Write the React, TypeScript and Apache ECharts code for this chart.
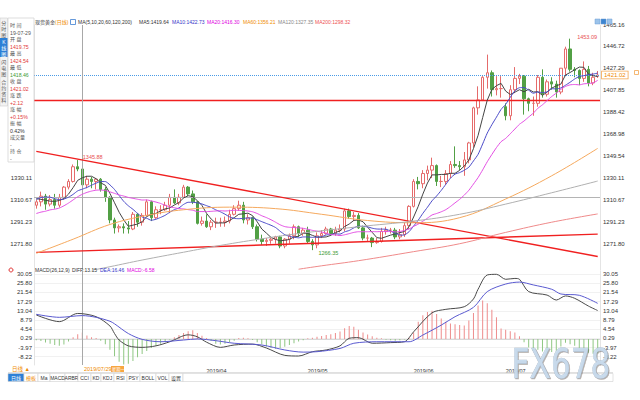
import React, { useEffect, useRef } from "react";
import * as echarts from "echarts";

// ---------- data ----------
const firstDate = "2019-02-07";

const openP = [
  1306, 1309, 1314, 1307, 1311, 1306, 1313, 1322, 1327, 1340,
  1338, 1324, 1329, 1327, 1329, 1320, 1313, 1293, 1286, 1287,
  1286, 1285, 1298, 1291, 1297, 1309, 1295, 1302, 1302, 1306,
  1313, 1308, 1313, 1322, 1316, 1309, 1290, 1292, 1287, 1291,
  1291, 1291, 1292, 1298, 1303, 1306, 1293, 1295, 1287, 1276,
  1274, 1275, 1276, 1278, 1270, 1276, 1279, 1287, 1281, 1284,
  1274, 1271, 1279, 1281, 1285, 1281, 1284, 1285, 1301, 1296,
  1297, 1286, 1277, 1277, 1273, 1274, 1283, 1284, 1284, 1278,
  1280, 1288, 1305, 1327, 1325, 1334, 1337, 1341, 1327, 1327,
  1334, 1342, 1341, 1340, 1346, 1361, 1392, 1399, 1419, 1423,
  1408, 1409, 1393, 1385, 1408, 1418, 1420, 1400, 1396, 1396,
  1419, 1404, 1415, 1413, 1406, 1427, 1444, 1426, 1425, 1418,
  1426, 1414, 1419.75,
];
const closeP = [
  1309, 1314, 1307, 1311, 1306, 1313, 1322, 1327, 1340, 1338,
  1324, 1329, 1327, 1329, 1320, 1313, 1293, 1286, 1287, 1286,
  1285, 1298, 1291, 1297, 1309, 1295, 1302, 1302, 1306, 1313,
  1308, 1313, 1322, 1316, 1309, 1290, 1292, 1287, 1291, 1291,
  1291, 1292, 1298, 1303, 1306, 1293, 1295, 1287, 1276, 1274,
  1275, 1276, 1278, 1270, 1276, 1279, 1287, 1281, 1284, 1274,
  1271, 1279, 1281, 1285, 1281, 1284, 1285, 1301, 1296, 1297,
  1286, 1277, 1277, 1273, 1274, 1283, 1284, 1284, 1278, 1280,
  1288, 1305, 1327, 1325, 1334, 1337, 1341, 1327, 1327, 1334,
  1342, 1341, 1340, 1346, 1361, 1392, 1399, 1419, 1423, 1408,
  1409, 1409, 1385, 1408, 1418, 1420, 1400, 1396, 1396, 1419,
  1404, 1415, 1413, 1406, 1427, 1444, 1426, 1425, 1418, 1426,
  1414, 1419, 1421.02,
];
const highP = [
  1311, 1318, 1316, 1315, 1316, 1316, 1323, 1329, 1342, 1345.88,
  1340, 1332, 1331, 1330, 1330, 1322, 1314, 1295, 1289, 1290,
  1292, 1300, 1299, 1299, 1311, 1310, 1305, 1306, 1309, 1316,
  1320, 1316, 1324, 1323, 1319, 1310, 1296, 1298, 1293, 1295,
  1295, 1296, 1302, 1306, 1310, 1309, 1298, 1296, 1289, 1280,
  1277, 1278, 1279, 1279, 1277, 1281, 1289, 1288, 1286, 1287,
  1276, 1282, 1284, 1287, 1286, 1287, 1289, 1303, 1303, 1300,
  1299, 1288, 1280, 1278, 1277, 1286, 1287, 1286, 1286, 1285,
  1291, 1306, 1329, 1331, 1337, 1341, 1348, 1342, 1332, 1337,
  1345, 1358, 1345, 1353, 1362, 1393, 1411, 1420, 1439, 1425,
  1420, 1420, 1396, 1412, 1428, 1422, 1421, 1401, 1402, 1421,
  1426, 1417, 1419, 1416, 1427, 1446, 1453.09, 1428, 1426, 1433,
  1429, 1423, 1424.54,
];
const lowP = [
  1303, 1305, 1302, 1305, 1303, 1304, 1311, 1320, 1326, 1336,
  1322, 1321, 1321, 1320, 1318, 1309, 1290, 1281, 1282, 1281,
  1281, 1284, 1287, 1288, 1296, 1292, 1294, 1298, 1301, 1299,
  1307, 1306, 1312, 1314, 1307, 1289, 1288, 1286, 1284, 1286,
  1287, 1287, 1290, 1297, 1301, 1290, 1289, 1285, 1274, 1271,
  1270, 1272, 1272, 1268, 1268, 1272, 1276, 1278, 1279, 1272,
  1266.35, 1268, 1277, 1280, 1279, 1279, 1282, 1283, 1294, 1292,
  1285, 1275, 1274, 1269, 1272, 1273, 1280, 1281, 1276, 1276,
  1278, 1285, 1304, 1320, 1321, 1328, 1330, 1323, 1322, 1324,
  1330, 1339, 1337, 1332, 1343, 1357, 1386, 1398, 1409, 1402,
  1403, 1401, 1381, 1381, 1405, 1413, 1386, 1389, 1385, 1393,
  1401, 1402, 1408, 1401, 1404, 1420, 1424, 1419, 1412, 1415,
  1411, 1412, 1418.46,
];

const ma5 = [
  1311.8, 1311.2, 1310.4, 1309.6, 1309.4, 1310.2, 1311.8, 1315.8, 1321.6, 1328.0,
  1330.2, 1331.6, 1331.6, 1329.4, 1325.8, 1323.6, 1316.4, 1308.2, 1299.8, 1293.0,
  1287.4, 1288.4, 1289.4, 1291.4, 1296.0, 1298.0, 1298.8, 1301.0, 1302.8, 1303.6,
  1306.2, 1308.4, 1312.4, 1314.4, 1313.6, 1310.0, 1305.8, 1298.8, 1293.8, 1290.2,
  1290.4, 1290.4, 1292.6, 1295.0, 1298.0, 1298.4, 1299.0, 1296.8, 1291.4, 1285.0,
  1281.4, 1277.6, 1275.8, 1274.6, 1275.0, 1275.8, 1278.0, 1278.6, 1281.4, 1281.0,
  1279.4, 1277.8, 1277.8, 1278.0, 1279.4, 1282.0, 1283.2, 1287.2, 1289.4, 1292.6,
  1293.0, 1291.4, 1286.6, 1282.0, 1277.4, 1276.8, 1278.2, 1279.6, 1280.6, 1281.8,
  1282.8, 1287.0, 1295.6, 1305.0, 1315.8, 1325.6, 1332.8, 1332.8, 1333.2, 1333.2,
  1334.2, 1334.2, 1336.8, 1340.6, 1346.0, 1356.0, 1367.6, 1383.4, 1398.8, 1408.2,
  1411.6, 1413.6, 1406.8, 1403.8, 1405.8, 1408.0, 1406.2, 1408.4, 1406.0, 1406.2,
  1403.0, 1406.0, 1409.4, 1411.4, 1413.0, 1421.0, 1423.2, 1425.6, 1428.0, 1427.8,
  1421.8, 1420.4, 1419.64,
];
const ma10 = [
  1311.2, 1312.8, 1313.2, 1313.1, 1311.8, 1311.0, 1311.5, 1313.1, 1315.6, 1318.7,
  1320.2, 1321.7, 1323.7, 1325.5, 1326.9, 1326.9, 1324.0, 1319.9, 1314.6, 1309.4,
  1305.5, 1302.4, 1298.8, 1295.6, 1294.5, 1292.7, 1293.6, 1295.2, 1297.1, 1299.8,
  1302.1, 1303.6, 1306.7, 1308.6, 1308.6, 1308.1, 1307.1, 1305.6, 1304.1, 1301.9,
  1300.2, 1298.1, 1295.7, 1294.4, 1294.1, 1294.4, 1294.7, 1294.7, 1293.2, 1291.5,
  1289.9, 1288.3, 1286.3, 1283.0, 1280.0, 1278.6, 1277.8, 1277.2, 1278.0, 1278.0,
  1277.6, 1277.9, 1278.2, 1279.7, 1280.2, 1280.7, 1280.5, 1282.5, 1283.7, 1286.0,
  1287.5, 1287.3, 1286.9, 1285.7, 1285.0, 1284.9, 1284.8, 1283.1, 1281.3, 1279.6,
  1279.8, 1282.6, 1287.6, 1292.8, 1298.8, 1304.2, 1309.9, 1314.2, 1319.1, 1324.5,
  1329.9, 1333.5, 1334.8, 1336.9, 1339.6, 1345.1, 1350.9, 1360.1, 1369.7, 1377.1,
  1383.8, 1390.6, 1395.1, 1401.3, 1407.0, 1409.8, 1409.9, 1407.6, 1404.9, 1406.0,
  1405.5, 1406.1, 1408.9, 1408.7, 1409.6, 1412.0, 1414.6, 1417.5, 1419.7, 1420.4,
  1421.4, 1421.8, 1422.73,
];
const ma20 = [
  1298.7, 1299.9, 1300.7, 1301.9, 1302.5, 1303.5, 1305.5, 1307.9, 1310.7, 1313.5,
  1315.7, 1317.3, 1318.5, 1319.3, 1319.4, 1319.0, 1317.8, 1316.5, 1315.1, 1314.1,
  1312.9, 1312.1, 1311.3, 1310.6, 1310.7, 1309.8, 1308.8, 1307.6, 1305.9, 1304.6,
  1303.8, 1303.0, 1302.8, 1302.1, 1301.6, 1300.4, 1300.4, 1300.4, 1300.6, 1300.9,
  1301.2, 1300.9, 1301.2, 1301.5, 1301.4, 1301.3, 1300.9, 1300.2, 1298.7, 1296.7,
  1295.1, 1293.2, 1291.0, 1288.7, 1287.1, 1286.5, 1286.3, 1286.0, 1285.6, 1284.8,
  1283.8, 1283.1, 1282.3, 1281.4, 1280.1, 1279.7, 1279.2, 1279.9, 1280.9, 1282.0,
  1282.6, 1282.6, 1282.6, 1282.7, 1282.6, 1282.8, 1282.7, 1282.8, 1282.5, 1282.8,
  1283.7, 1285.0, 1287.3, 1289.3, 1291.9, 1294.6, 1297.4, 1298.7, 1300.2, 1302.1,
  1304.9, 1308.1, 1311.2, 1314.9, 1319.2, 1324.7, 1330.4, 1337.2, 1344.4, 1350.8,
  1356.9, 1362.1, 1365.0, 1369.1, 1373.3, 1377.5, 1380.4, 1383.9, 1387.3, 1391.6,
  1394.7, 1398.4, 1402.0, 1405.0, 1408.3, 1410.9, 1412.3, 1412.6, 1412.3, 1413.2,
  1413.5, 1414.0, 1416.3,
];
// [candle index, value] read at points along the long averages
const ma60 = [[0, 1263.5], [8, 1276], [16, 1289], [24, 1297], [32, 1302], [42, 1304.3], [52, 1303], [62, 1298], [72, 1292.5], [82, 1290.5], [92, 1295], [102, 1311.5], [112, 1332], [122, 1356.21]];
const ma120 = [[12, 1248.5], [16, 1251.7], [23, 1257.6], [32, 1264.5], [40, 1270.5], [50, 1277], [57, 1281], [70, 1287], [82, 1292], [92, 1298], [102, 1307], [112, 1317], [122, 1327.35]];
const ma200 = [[57, 1249.5], [62, 1252.5], [70, 1257], [82, 1265], [92, 1272], [102, 1282], [112, 1291], [122, 1298.32]];

const diffLine = [[0, 11.1], [5, 8.0], [9, 11.8], [13, 10.3], [16, 6.0], [17, 2.5], [18, -0.5], [20, -3.2], [23, -3.9], [26, -3.2], [29, -1.3], [33, 1.9], [35, 1.0], [37, -1.5], [40, -3.9], [43, -2.8], [47, -2.4], [50, -4.2], [54, -7.6], [57, -7.9], [60, -5.9], [63, -5.1], [66, -3.2], [68, 0.3], [70, 0.6], [73, -2.0], [77, -1.7], [80, -1.3], [82, 3.3], [86, 12.1], [89, 13.7], [93, 14.9], [95, 18.5], [96, 23.0], [98, 29.6], [100, 29.9], [102, 27.6], [104, 28.0], [105, 27.6], [107, 21.9], [111, 20.3], [113, 18.0], [115, 19.9], [117, 18.8], [120, 15.2], [122, 13.15]];
const deaLine = [[0, 11.4], [5, 10.0], [10, 10.8], [13, 10.0], [16, 8.2], [17, 7.0], [20, 2.5], [23, -0.2], [27, -1.3], [32, -0.5], [35, 0.0], [39, -0.8], [43, -2.0], [49, -2.8], [54, -5.1], [58, -6.1], [61, -5.9], [66, -4.4], [69, -2.0], [74, -1.3], [81, -1.3], [84, 1.8], [88, 6.4], [91, 10.3], [95, 14.6], [98, 21.9], [102, 25.4], [105, 26.3], [108, 25.0], [112, 23.0], [114, 20.8], [118, 20.2], [122, 16.46]];
const macdHist = [
  -0.6, -1.0, -1.6, -2.2, -2.8, -3.2, -2.6, -1.2, 0.8, 2.2,
  3.0, 1.6, 0.8, 0.4, -0.8, -2.5, -5.0, -8.0, -10.5, -11.8,
  -11.5, -10.2, -8.5, -7.0, -5.6, -4.2, -3.2, -2.2, -1.2, -0.4,
  0.8, 1.8, 2.8, 3.6, 4.0, 2.8, 1.5, 0.4, -1.0, -2.2,
  -2.6, -2.2, -1.5, -0.8, 0.4, 0.6, 0.3, -0.5, -1.5, -2.5,
  -3.5, -4.2, -4.5, -4.2, -3.6, -2.8, -2.0, -1.2, -0.6, 0.3,
  0.6, 1.0, 1.4, 1.8, 2.2, 2.8, 3.4, 5.0, 6.0, 5.6,
  4.2, 3.0, 2.0, 1.2, 0.6, 0.3, -0.4, -0.6, -0.8, -0.6,
  -0.3, 0.6, 3.0, 8.0, 11.0, 12.5, 13.0, 11.5, 9.5, 8.0,
  7.2, 6.8, 6.4, 6.2, 8.5, 12.0, 15.5, 17.8, 16.5, 13.5,
  10.0, 4.8, 4.2, 3.6, 3.0, 1.2, -1.5, -4.0, -5.5, -5.0,
  -5.8, -6.2, -6.0, -5.5, -3.5, -1.8, -2.5, -3.2, -4.6, -5.6,
  -6.4, -6.8, -6.58,
];

const mainTicks = [1271.8, 1291.23, 1310.67, 1330.11, 1349.54, 1368.98, 1388.42, 1407.85, 1427.29, 1446.72, 1465.16];
const mainLeftTicks = [1271.8, 1291.23, 1310.67, 1330.11];
const macdTicks = [-8.22, -3.97, 0.29, 4.54, 8.79, 13.04, 17.29, 21.54, 25.8, 30.05];

const lastPrice = 1421.02;
const resistLevel = 1398.5;
const greyLevel = 1313.0;
const trendDown = [[0, 1353.6], [122, 1260.7]];
const trendUp = [[0, 1264.4], [122, 1280.5]];
const crossIndex = 10;
const markHigh1 = 9;
const markLow = 60;
const markHigh2 = 116;

const maNames = ["MA5", "MA10", "MA20", "MA60", "MA120", "MA200"];
const maLast = ["1419.64", "1422.73", "1416.30", "1356.21", "1327.35", "1298.32"];
const macdHeader = ["MACD(26,12,9)", "DIFF:13.15", "DEA:16.46", "MACD:-6.58"];

const sideLabels = ["时 间", "开 盘", "最 高", "最 低", "收 盘", "涨 跌", "涨 幅", "振 幅", "成交量", "持 仓"];
const sideValues = ["19-07-29", "1419.75", "1424.54", "1418.46", "1421.02", "+2.12", "+0.15%", "0.42%", "-", "-"];
const tabs = ["分时图", "K线图", "闪电图", "合约资料"];
const toolItems = ["日线", "模板", "Ma", "MACD", "ARBR", "CCI", "KD", "KDJ", "RSI", "PSY", "BOLL", "VOL", "设置"];

// ---------- helpers ----------
const pad = (n: number) => (n < 10 ? "0" + n : "" + n);
function tradingDates(start: string, count: number): string[] {
  const out: string[] = [];
  const d = new Date(start + "T00:00:00Z");
  while (out.length < count) {
    const wd = d.getUTCDay();
    if (wd !== 0 && wd !== 6) out.push(`${d.getUTCFullYear()}/${pad(d.getUTCMonth() + 1)}/${pad(d.getUTCDate())}`);
    d.setUTCDate(d.getUTCDate() + 1);
  }
  return out;
}
const dates = tradingDates(firstDate, closeP.length);
const ohlc = closeP.map((c, i) => [openP[i], c, lowP[i], highP[i]]);

const FONT = '"Liberation Sans", "Noto Sans CJK SC", Arial, sans-serif';
const RED = "#e23a3a";
const GREEN = "#3f9a35";
const maColors = ["#444444", "#4b4bc8", "#e34fe3", "#f5a95e", "#b0b0b0", "#ef8a8a"];

function txt(x: number, y: number, text: string, fill: string, size = 5, extra: any = {}) {
  return {
    type: "text",
    x,
    y,
    z: 100,
    silent: true,
    style: { text, fill, fontSize: size, fontFamily: FONT, verticalAlign: "middle", align: "left", ...extra },
  };
}

function buildGraphic() {
  const g: any[] = [];
  // header
  g.push(txt(35, 22, "现货黄金", "#333"));
  g.push(txt(55, 22, "(日线)", "#f08a00"));
  g.push({ type: "rect", z: 100, shape: { x: 70.5, y: 19.5, width: 5, height: 5 }, style: { fill: "#fff", stroke: "#3d7fd0", lineWidth: 0.8 } });
  g.push(txt(78, 22, "MA(5,10,20,60,120,200)", "#333"));
  const maX = [139, 172, 207, 243, 278, 315];
  const maTextColors = ["#333", "#3434c8", "#e000e0", "#f08c00", "#888", "#ee5050"];
  maNames.forEach((n, i) => g.push(txt(maX[i], 22, `${n}:${maLast[i]}`, maTextColors[i])));
  // top-right buttons
  ["#9cc3ea", "#3d85d0", "#9cc3ea"].forEach((c, i) =>
    g.push({ type: "rect", z: 100, shape: { x: 595 + i * 6, y: 19, width: 5, height: 5 }, style: { fill: c, stroke: "#6d9fd6", lineWidth: 0.5 } })
  );
  // last-price marker at right edge
  g.push({ type: "rect", z: 100, shape: { x: 634.5, y: 70.5, width: 4, height: 4 }, style: { fill: "#fff", stroke: "#f3a650", lineWidth: 0.8 } });
  // left vertical tabs
  g.push({ type: "rect", z: 99, shape: { x: 0, y: 18, width: 7.5, height: 88 }, style: { fill: "#f3f3f3", stroke: "#cfcfcf", lineWidth: 0.6 } });
  const tabY = [19, 38, 58, 78];
  const tabH = [18, 19, 19, 27];
  tabs.forEach((t, i) => {
    if (i === 1) g.push({ type: "rect", z: 100, shape: { x: 0, y: tabY[i], width: 7.5, height: tabH[i] }, style: { fill: "#2c7fd6" } });
    g.push({
      type: "text", z: 101, x: 3.8, y: tabY[i] + 1, silent: true,
      style: { text: t.split("").join("\n"), fill: i === 1 ? "#fff" : "#555", fontSize: 5, lineHeight: 6, fontFamily: FONT, align: "center", verticalAlign: "top" },
    });
  });
  // info box
  g.push({ type: "rect", z: 99, shape: { x: 8, y: 18, width: 26, height: 144 }, style: { fill: "#fff", stroke: "#d4d4d4", lineWidth: 0.8 } });
  const valColors = ["#555", RED, RED, GREEN, RED, RED, RED, "#333", "#555", "#555"];
  sideLabels.forEach((l, i) => {
    g.push(txt(10, 25 + i * 14, l, "#555", 5));
    g.push(txt(10, 32.5 + i * 14, sideValues[i], valColors[i], 5.2));
  });
  // MACD header
  g.push({ type: "circle", z: 100, shape: { cx: 11, cy: 270, r: 2 }, style: { fill: "#fff", stroke: "#e23a3a", lineWidth: 1 } });
  const mhX = [35, 72, 100, 127];
  const mhColors = ["#333", "#333", "#3434c8", "#e000e0"];
  macdHeader.forEach((h, i) => g.push(txt(mhX[i], 270, h, mhColors[i])));
  // bottom label row
  g.push({ type: "line", z: 100, shape: { x1: 8, y1: 372.5, x2: 613, y2: 372.5 }, style: { stroke: "#d8d8d8", lineWidth: 0.8 } });
  g.push(txt(12, 369, "日线 ▲", "#f08a00", 5.5));
  g.push(txt(84, 369, "2019/07/29", "#f08a00", 5.5));
  g.push({ type: "rect", z: 100, shape: { x: 111, y: 366, width: 13, height: 6 }, style: { fill: "#f7a640" } });
  g.push(txt(112, 369, "星期一", "#fff", 4.2));
  // toolbar
  const widths = [16, 14, 12, 15, 13, 13, 10, 13, 13, 13, 16, 13, 14];
  let x = 8;
  toolItems.forEach((item, i) => {
    const w = widths[i];
    g.push({ type: "rect", z: 100, shape: { x, y: 373.5, width: w, height: 8 }, style: { fill: i === 0 ? "#2c7fd6" : "#fff", stroke: "#d0d0d0", lineWidth: 0.6 } });
    g.push(txt(x + w / 2, 377.5, item, i === 0 ? "#fff" : i === 1 ? "#f08a00" : "#333", 5, { align: "center" }));
    x += w;
  });
  g.push({ type: "rect", z: 100, shape: { x, y: 373.5, width: 613 - x, height: 8 }, style: { fill: "#fff", stroke: "#d0d0d0", lineWidth: 0.6 } });
  // watermark
  g.push({
    type: "text", z: 120, x: 561, y: 364, scaleX: 0.78, silent: true,
    style: {
      text: "FX678", fill: "rgba(200,219,238,0.92)", stroke: "rgba(150,165,185,0.8)", lineWidth: 0.6,
      fontSize: 40, fontFamily: '"DejaVu Sans", sans-serif',
      align: "center", verticalAlign: "middle",
      textShadowColor: "rgba(110,100,95,0.55)", textShadowOffsetX: 1, textShadowOffsetY: 1, textShadowBlur: 1.5,
    },
  });
  return g;
}

function buildOption() {
  const MAIN_MIN = 1248.8;
  const MAIN_MAX = 1465.16;
  const MACD_MIN = -12.06;
  const MACD_MAX = 31.44;
  const labelFmt = (v: number) => v.toFixed(2);
  const yAxisBase = (grid: number, pos: string, min: number, max: number, ticks: number[], split: boolean) => ({
    type: "value",
    gridIndex: grid,
    position: pos,
    min,
    max,
    axisLine: { show: true, lineStyle: { color: "#e4e4e4", width: 1 } },
    axisTick: { show: false, customValues: ticks },
    axisLabel: { customValues: ticks, formatter: labelFmt, fontSize: 6, color: "#333", margin: pos === "left" ? 2 : 3, fontFamily: FONT },
    splitLine: { show: split, lineStyle: { color: "#f1f1f1", width: 1 } },
  });
  const monthOf = (s: string) => s.slice(0, 7);
  const lineSeries = (name: string, data: any[], color: string, smooth: number | boolean = false) => ({
    name,
    type: "line",
    xAxisIndex: 0,
    yAxisIndex: 0,
    data,
    showSymbol: false,
    symbol: "none",
    smooth,
    connectNulls: true,
    lineStyle: { color, width: 1 },
    z: 6,
    silent: true,
  });
  return {
    animation: false,
    backgroundColor: "#ffffff",
    textStyle: { fontFamily: FONT },
    grid: [
      { left: 34, right: 40, top: 25, height: 245 },
      { left: 34, right: 40, top: 271, height: 94 },
    ],
    xAxis: [
      {
        type: "category", gridIndex: 0, data: dates, boundaryGap: true,
        axisLine: { show: false }, axisTick: { show: false }, axisLabel: { show: false }, splitLine: { show: false },
      },
      {
        type: "category", gridIndex: 1, data: dates, boundaryGap: true,
        axisLine: { show: true, lineStyle: { color: "#d8d8d8" } }, axisTick: { show: false },
        axisLabel: {
          interval: (i: number, v: string) => i > 0 && monthOf(v) !== monthOf(dates[i - 1]) && Number(v.slice(5, 7)) >= 4,
          formatter: (v: string) => v.slice(0, 7),
          fontSize: 5.5, color: "#333", align: "left", margin: 3, fontFamily: FONT,
        },
        splitLine: { show: false },
      },
    ],
    yAxis: [
      yAxisBase(0, "left", MAIN_MIN, MAIN_MAX, mainLeftTicks, false),
      yAxisBase(0, "right", MAIN_MIN, MAIN_MAX, mainTicks, false),
      yAxisBase(1, "left", MACD_MIN, MACD_MAX, macdTicks, true),
      yAxisBase(1, "right", MACD_MIN, MACD_MAX, macdTicks, false),
    ],
    series: [
      {
        name: "K",
        type: "candlestick",
        xAxisIndex: 0,
        yAxisIndex: 0,
        data: ohlc,
        barWidth: 3,
        z: 3,
        itemStyle: { color: "#ffffff", color0: "#52a045", borderColor: "#e56b6b", borderColor0: "#52a045", borderWidth: 1 },
        markLine: {
          silent: true,
          symbol: ["none", "none"],
          animation: false,
          label: { show: false },
          data: [
            {
              yAxis: lastPrice,
              lineStyle: { color: "#4a9be6", type: "dotted", width: 1 },
              label: {
                show: true, position: "end", distance: 2, formatter: lastPrice.toFixed(2),
                color: "#f08a00", fontSize: 6, backgroundColor: "#fff", borderColor: "#f3a650", borderWidth: 0.8, padding: [1, 2, 0, 2],
              },
            },
            { yAxis: resistLevel, lineStyle: { color: "#f02020", type: "solid", width: 1.3 } },
            { yAxis: greyLevel, lineStyle: { color: "#b4b4b4", type: "solid", width: 1 } },
            { xAxis: crossIndex, lineStyle: { color: "#a8a8a8", type: "solid", width: 1 } },
            [
              { coord: trendDown[0], lineStyle: { color: "#f02020", type: "solid", width: 1.4 } },
              { coord: trendDown[1] },
            ],
            [
              { coord: trendUp[0], lineStyle: { color: "#f02020", type: "solid", width: 1.4 } },
              { coord: trendUp[1] },
            ],
          ],
        },
        markPoint: {
          silent: true,
          symbol: "rect",
          symbolSize: 0.1,
          data: [
            { coord: [markHigh1, highP[markHigh1]], label: { show: true, formatter: highP[markHigh1].toFixed(2), position: "right", offset: [0, -3], color: "#e85050", fontSize: 5.5 } },
            { coord: [markLow, lowP[markLow]], label: { show: true, formatter: lowP[markLow].toFixed(2), position: "right", offset: [1, 3], color: "#3f9a35", fontSize: 5.5 } },
            { coord: [markHigh2, highP[markHigh2]], label: { show: true, formatter: highP[markHigh2].toFixed(2), position: "right", offset: [2, -2], color: "#e85050", fontSize: 5.5 } },
          ],
        },
      },
      lineSeries("MA5", ma5, maColors[0]),
      lineSeries("MA10", ma10, maColors[1], 0.2),
      lineSeries("MA20", ma20, maColors[2], 0.2),
      lineSeries("MA60", ma60, maColors[3], 0.4),
      lineSeries("MA120", ma120, maColors[4], 0.4),
      lineSeries("MA200", ma200, maColors[5], 0.4),
      {
        name: "MACD",
        type: "bar",
        xAxisIndex: 1,
        yAxisIndex: 2,
        data: macdHist,
        barWidth: 1,
        silent: true,
        itemStyle: { color: (p: any) => (p.value >= 0 ? "#ee8c8c" : "#8fc783") },
        markLine: {
          silent: true,
          symbol: ["none", "none"],
          label: { show: false },
          data: [{ xAxis: crossIndex, lineStyle: { color: "#a8a8a8", type: "solid", width: 1 } }],
        },
      },
      {
        name: "DIFF", type: "line", xAxisIndex: 1, yAxisIndex: 2, data: diffLine, showSymbol: false, symbol: "none",
        smooth: 0.3, lineStyle: { color: "#4a4a4a", width: 1 }, silent: true, z: 5,
      },
      {
        name: "DEA", type: "line", xAxisIndex: 1, yAxisIndex: 2, data: deaLine, showSymbol: false, symbol: "none",
        smooth: 0.3, lineStyle: { color: "#5a5ad0", width: 1 }, silent: true, z: 5,
      },
    ],
    graphic: buildGraphic(),
  };
}

export default function App() {
  const ref = useRef<HTMLDivElement>(null);
  useEffect(() => {
    if (!ref.current) return;
    const chart = echarts.init(ref.current, null, { renderer: "svg" });
    chart.setOption(buildOption() as any);
    return () => chart.dispose();
  }, []);
  return (
    <div
      ref={ref}
      style={{ position: "fixed", left: 0, top: 0, width: 640, height: 400, background: "#fff" }}
    />
  );
}
